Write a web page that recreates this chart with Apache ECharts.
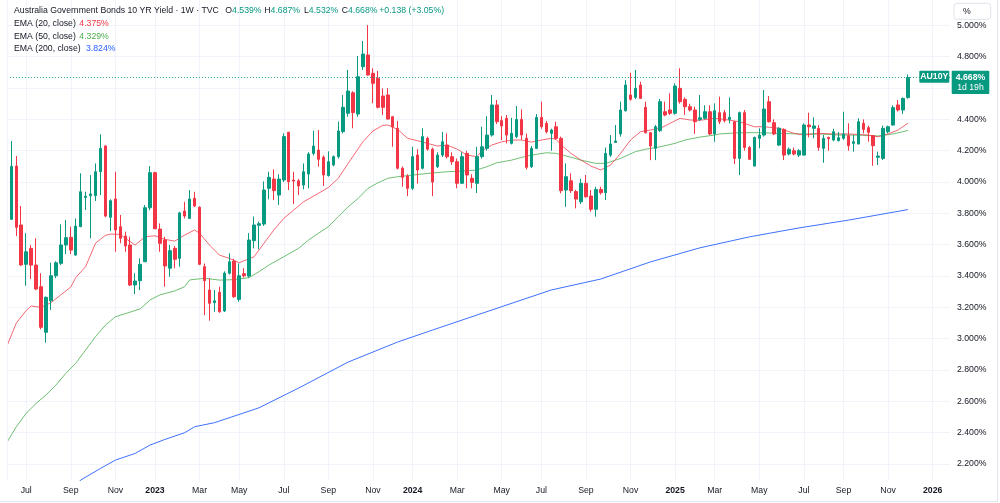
<!DOCTYPE html>
<html>
<head>
<meta charset="utf-8">
<script src="https://cdn.jsdelivr.net/npm/echarts@6/dist/echarts.min.js"></script>
<style>
html, body { margin: 0; padding: 0; background: #fff; }
#main { width: 1000px; height: 503px; }
</style>
</head>
<body>
<div id="main"></div>
<script>
// weekly bars, bar 0 = week of 2022-06-06
var startDate = Date.UTC(2022, 5, 6);
var totalWeeks = 191;

var open = [
  3.50, 3.762, 4.102, 3.726, 3.475, 3.577, 3.470, 3.332, 3.041, 3.242,
  3.402, 3.481, 3.598, 3.647, 3.534, 3.715, 3.902, 3.913, 3.913, 4.066,
  4.230, 3.775, 3.892, 3.715, 3.655, 3.598, 3.343, 3.370, 3.491, 3.836,
  4.060, 3.700, 3.630, 3.450, 3.577, 3.513, 3.815, 3.768, 3.896, 3.839,
  3.460, 3.311, 3.230, 3.296, 3.177, 3.418, 3.495, 3.251, 3.415, 3.400,
  3.626, 3.724, 3.732, 3.960, 4.019, 3.917, 4.013, 4.318, 4.013, 4.008,
  3.981, 4.051, 4.183, 4.204, 4.158, 4.041, 4.109, 4.162, 4.322, 4.439,
  4.570, 4.434, 4.736, 4.811, 4.694, 4.662, 4.549, 4.556, 4.417, 4.343,
  4.088, 4.038, 3.960, 4.172, 4.088, 4.279, 4.210, 4.098, 4.172, 4.236,
  4.162, 4.130, 3.992, 4.183, 4.024, 3.992, 4.162, 4.215, 4.300, 4.492,
  4.392, 4.407, 4.247, 4.290, 4.400, 4.280, 4.098, 4.215, 4.413, 4.375,
  4.311, 4.353, 4.279, 3.949, 4.008, 3.939, 3.874, 3.992, 3.911, 3.826,
  3.953, 3.932, 4.172, 4.253, 4.307, 4.455, 4.556, 4.541, 4.619, 4.477,
  4.315, 4.215, 4.328, 4.449, 4.460, 4.439, 4.598, 4.528, 4.481, 4.460,
  4.400, 4.407, 4.449, 4.307, 4.443, 4.443, 4.400, 4.385, 4.151, 4.443,
  4.221, 4.102, 4.279, 4.300, 4.513, 4.379, 4.236, 4.336, 4.179, 4.200,
  4.172, 4.172, 4.364, 4.343, 4.343, 4.215, 4.285, 4.268, 4.264, 4.279,
  4.296, 4.247, 4.243, 4.375, 4.347, 4.296, 4.158, 4.151, 4.321, 4.364,
  4.492, 4.460, 4.539
];
var high = [
  3.78, 4.262, 4.166, 3.847, 3.673, 3.598, 3.641, 3.418, 3.270, 3.485,
  3.494, 3.730, 3.758, 3.715, 3.768, 4.056, 3.938, 4.045, 4.119, 4.305,
  4.236, 3.890, 4.066, 3.790, 3.683, 3.651, 3.418, 3.513, 3.853, 4.102,
  4.066, 3.736, 3.651, 3.598, 3.592, 3.810, 3.874, 3.949, 3.938, 3.845,
  3.480, 3.386, 3.311, 3.332, 3.430, 3.545, 3.510, 3.480, 3.450, 3.674,
  3.780, 3.747, 4.004, 4.066, 4.081, 4.050, 4.311, 4.320, 4.066, 4.020,
  4.119, 4.190, 4.328, 4.332, 4.170, 4.196, 4.170, 4.386, 4.556, 4.715,
  4.580, 4.805, 4.900, 5.002, 4.726, 4.710, 4.598, 4.600, 4.420, 4.390,
  4.100, 4.050, 4.225, 4.210, 4.343, 4.290, 4.220, 4.190, 4.320, 4.311,
  4.190, 4.150, 4.190, 4.200, 4.050, 4.225, 4.353, 4.420, 4.556, 4.524,
  4.420, 4.428, 4.410, 4.485, 4.464, 4.310, 4.230, 4.434, 4.513, 4.390,
  4.340, 4.385, 4.290, 4.119, 4.056, 3.950, 4.020, 4.045, 3.949, 3.970,
  3.970, 4.220, 4.300, 4.364, 4.513, 4.650, 4.698, 4.715, 4.640, 4.513,
  4.320, 4.364, 4.530, 4.513, 4.566, 4.630, 4.726, 4.540, 4.500, 4.481,
  4.556, 4.490, 4.490, 4.502, 4.545, 4.460, 4.540, 4.390, 4.450, 4.460,
  4.230, 4.290, 4.343, 4.587, 4.549, 4.400, 4.350, 4.343, 4.220, 4.220,
  4.210, 4.375, 4.443, 4.413, 4.364, 4.300, 4.290, 4.340, 4.320, 4.449,
  4.375, 4.300, 4.407, 4.400, 4.360, 4.300, 4.194, 4.360, 4.360, 4.490,
  4.524, 4.540, 4.687
];
var low = [
  3.45, 3.760, 3.655, 3.465, 3.338, 3.381, 3.310, 3.060, 2.975, 3.183,
  3.387, 3.470, 3.540, 3.540, 3.530, 3.715, 3.821, 3.641, 3.879, 3.917,
  3.775, 3.687, 3.555, 3.609, 3.555, 3.336, 3.285, 3.311, 3.490, 3.820,
  3.700, 3.555, 3.332, 3.396, 3.450, 3.460, 3.768, 3.768, 3.840, 3.470,
  3.150, 3.115, 3.172, 3.166, 3.170, 3.410, 3.260, 3.236, 3.390, 3.390,
  3.577, 3.571, 3.720, 3.890, 3.885, 3.853, 4.000, 3.949, 3.860, 3.917,
  3.953, 3.960, 4.170, 4.098, 3.975, 4.035, 4.100, 4.150, 4.310, 4.417,
  4.343, 4.417, 4.715, 4.680, 4.503, 4.470, 4.428, 4.400, 4.225, 4.080,
  3.970, 3.910, 3.950, 3.990, 4.080, 4.200, 3.910, 4.090, 4.160, 4.150,
  4.110, 3.960, 3.990, 3.960, 3.960, 3.930, 4.150, 4.200, 4.290, 4.370,
  4.268, 4.247, 4.240, 4.280, 4.270, 4.080, 4.090, 4.210, 4.340, 4.310,
  4.200, 4.270, 3.928, 3.842, 3.930, 3.832, 3.860, 3.900, 3.811, 3.779,
  3.920, 3.885, 4.160, 4.250, 4.290, 4.450, 4.520, 4.530, 4.530, 4.310,
  4.140, 4.140, 4.320, 4.420, 4.428, 4.430, 4.500, 4.428, 4.450, 4.307,
  4.390, 4.400, 4.300, 4.257, 4.370, 4.380, 4.375, 4.115, 4.045, 4.200,
  4.140, 4.100, 4.215, 4.290, 4.380, 4.300, 4.230, 4.140, 4.170, 4.170,
  4.160, 4.170, 4.285, 4.279, 4.200, 4.123, 4.200, 4.260, 4.260, 4.270,
  4.200, 4.194, 4.240, 4.310, 4.257, 4.104, 4.109, 4.140, 4.310, 4.360,
  4.450, 4.434, 4.532
];
var close = [
  3.77, 4.100, 3.711, 3.471, 3.555, 3.470, 3.317, 3.073, 3.264, 3.402,
  3.485, 3.598, 3.645, 3.566, 3.719, 3.938, 3.910, 3.924, 4.066, 4.215,
  3.783, 3.881, 3.694, 3.641, 3.592, 3.343, 3.368, 3.475, 3.836, 4.060,
  3.702, 3.609, 3.464, 3.562, 3.507, 3.803, 3.783, 3.892, 3.847, 3.475,
  3.370, 3.226, 3.242, 3.172, 3.418, 3.491, 3.268, 3.402, 3.402, 3.630,
  3.726, 3.734, 3.949, 4.030, 3.945, 4.019, 4.290, 4.002, 4.006, 3.975,
  4.066, 4.179, 4.230, 4.145, 4.045, 4.130, 4.162, 4.326, 4.477, 4.581,
  4.443, 4.672, 4.817, 4.683, 4.630, 4.477, 4.477, 4.402, 4.353, 4.088,
  4.030, 3.960, 4.162, 4.077, 4.290, 4.210, 4.000, 4.172, 4.257, 4.162,
  4.130, 3.992, 4.162, 4.045, 3.998, 4.162, 4.225, 4.300, 4.492, 4.385,
  4.358, 4.300, 4.311, 4.400, 4.300, 4.094, 4.215, 4.413, 4.353, 4.321,
  4.332, 4.279, 3.945, 4.034, 3.945, 3.891, 3.992, 3.906, 3.826, 3.953,
  3.932, 4.183, 4.243, 4.262, 4.460, 4.619, 4.528, 4.598, 4.534, 4.315,
  4.230, 4.353, 4.513, 4.428, 4.439, 4.613, 4.513, 4.481, 4.460, 4.385,
  4.410, 4.449, 4.307, 4.455, 4.385, 4.392, 4.413, 4.151, 4.443, 4.221,
  4.145, 4.285, 4.300, 4.466, 4.385, 4.307, 4.343, 4.172, 4.209, 4.179,
  4.200, 4.364, 4.353, 4.358, 4.221, 4.279, 4.277, 4.321, 4.283, 4.307,
  4.232, 4.257, 4.385, 4.336, 4.317, 4.232, 4.166, 4.343, 4.353, 4.475,
  4.460, 4.534, 4.668
];

// indicator lines: [bar index, value]
var ema20 = [
  [0, 2.945], [2, 3.10], [4, 3.18], [5, 3.209], [7, 3.20], [9, 3.23], [11, 3.28],
  [13, 3.33], [14, 3.39], [16, 3.46], [18, 3.61], [20, 3.66], [21, 3.668], [23, 3.666],
  [24, 3.641], [26, 3.598], [28, 3.651], [30, 3.657], [32, 3.634], [34, 3.623],
  [36, 3.662], [38, 3.694], [39, 3.673], [41, 3.598], [43, 3.534], [45, 3.513],
  [47, 3.485], [50, 3.523], [52, 3.609], [54, 3.694], [56, 3.768], [58, 3.821],
  [60, 3.874], [63, 3.928], [65, 3.965], [67, 4.024], [69, 4.119], [72, 4.258],
  [74, 4.326], [76, 4.362], [77, 4.364], [79, 4.336], [81, 4.279], [83, 4.264],
  [85, 4.247], [87, 4.230], [89, 4.235], [91, 4.210], [93, 4.172], [95, 4.162],
  [96, 4.200], [98, 4.236], [100, 4.257], [102, 4.268], [104, 4.268], [106, 4.255],
  [108, 4.268], [110, 4.279], [111, 4.272], [112, 4.236], [114, 4.183], [116, 4.140],
  [118, 4.102], [120, 4.077], [122, 4.109], [124, 4.183], [126, 4.268], [128, 4.321],
  [130, 4.332], [132, 4.343], [134, 4.375], [136, 4.407], [138, 4.396], [140, 4.394],
  [143, 4.407], [145, 4.400], [148, 4.385], [151, 4.353], [153, 4.353], [156, 4.343],
  [159, 4.311], [161, 4.300], [164, 4.311], [167, 4.307], [170, 4.307], [174, 4.300],
  [176, 4.289], [178, 4.307], [180, 4.332], [182, 4.375]
];
var ema50 = [
  [0, 2.332], [2, 2.438], [4, 2.524], [6, 2.587], [8, 2.641], [10, 2.704], [12, 2.779],
  [14, 2.843], [16, 2.928], [18, 3.013], [20, 3.087], [22, 3.140], [24, 3.160],
  [27, 3.190], [29, 3.247], [31, 3.280], [34, 3.305], [36, 3.332], [37, 3.375],
  [40, 3.386], [43, 3.374], [46, 3.377], [49, 3.390], [51, 3.428], [53, 3.470],
  [56, 3.523], [59, 3.577], [61, 3.630], [63, 3.673], [65, 3.715], [67, 3.779],
  [69, 3.842], [71, 3.895], [73, 3.960], [75, 3.995], [77, 4.024], [79, 4.034],
  [83, 4.048], [86, 4.058], [89, 4.066], [92, 4.070], [95, 4.077], [97, 4.098],
  [99, 4.123], [102, 4.140], [104, 4.157], [106, 4.172], [109, 4.187], [111, 4.183],
  [114, 4.158], [116, 4.140], [119, 4.119], [121, 4.119], [124, 4.151], [127, 4.194],
  [129, 4.209], [132, 4.225], [135, 4.247], [137, 4.268], [140, 4.287], [143, 4.300],
  [144, 4.307], [148, 4.315], [152, 4.315], [156, 4.311], [160, 4.307], [164, 4.307],
  [168, 4.300], [172, 4.300], [176, 4.294], [179, 4.307], [182, 4.329]
];
var ema200 = [
  [14, 2.06], [15, 2.098], [19, 2.172], [22, 2.225], [26, 2.268], [29, 2.321], [32, 2.357],
  [36, 2.400], [38, 2.438], [42, 2.464], [46, 2.506], [51, 2.559], [59, 2.685],
  [69, 2.851], [79, 2.979], [86, 3.055], [96, 3.162], [110, 3.311], [120, 3.381],
  [130, 3.490], [140, 3.580], [150, 3.650], [160, 3.707], [170, 3.757], [182, 3.824]
];

var priceTicks = [2.2, 2.4, 2.6, 2.8, 3.0, 3.2, 3.4, 3.6, 3.8, 4.0, 4.2, 4.4, 4.6, 4.8, 5.0];
var lastPrice = 4.668;
var monthNames = ['Jan', 'Feb', 'Mar', 'Apr', 'May', 'Jun', 'Jul', 'Aug', 'Sep', 'Oct', 'Nov', 'Dec'];

var weeks = [];
for (var i = 0; i < totalWeeks; i++) {
  weeks.push(new Date(startDate + i * 7 * 86400000));
}
var categories = weeks.map(function (d) { return d.toISOString().slice(0, 10); });

function isMarked(i) {
  if (i === 0) return false;
  var m = weeks[i].getUTCMonth();
  return m !== weeks[i - 1].getUTCMonth() && m % 2 === 0;
}

var font = 'Liberation Sans, Arial, sans-serif';
var fs = 8.7;
var green = '#089981';
var red = '#f23645';
var gridColor = '#f0f3fa';

var myChart = echarts.init(document.getElementById('main'), null, { renderer: 'canvas' });

var option = {
  animation: false,
  backgroundColor: '#ffffff',
  grid: { left: 3.9, right: 50, top: 0, bottom: 22.5 },
  xAxis: {
    type: 'category',
    data: categories,
    boundaryGap: true,
    axisLine: { show: false },
    axisTick: { show: false, alignWithLabel: true, interval: function (i) { return isMarked(i); } },
    splitLine: {
      show: true,
      alignWithLabel: true,
      interval: function (i) { return isMarked(i); },
      lineStyle: { color: gridColor, width: 1 }
    },
    axisLabel: {
      interval: function (i) { return isMarked(i); },
      margin: 6,
      color: '#131722',
      fontSize: fs,
      fontFamily: font,
      formatter: function (value, index) {
        var d = weeks[index];
        if (d.getUTCMonth() === 0) return '{y|' + d.getUTCFullYear() + '}';
        return monthNames[d.getUTCMonth()];
      },
      rich: { y: { fontWeight: 'bold', fontSize: fs, fontFamily: font, color: '#131722' } }
    }
  },
  yAxis: {
    type: 'value',
    position: 'right',
    min: 2.095,
    max: 5.162,
    axisLine: { show: false },
    axisTick: { show: false, customValues: priceTicks },
    splitLine: { show: true, lineStyle: { color: gridColor, width: 1 } },
    axisLabel: {
      customValues: priceTicks,
      margin: 7,
      color: '#131722',
      fontSize: fs,
      fontFamily: font,
      formatter: function (v) { return v.toFixed(3) + '%'; }
    }
  },
  series: [
    {
      type: 'line',
      data: ema200,
      symbol: 'none',
      lineStyle: { color: '#2962ff', width: 1, opacity: 0.9 },
      z: 3
    },
    {
      type: 'line',
      data: ema50,
      symbol: 'none',
      lineStyle: { color: '#4caf50', width: 1, opacity: 0.8 },
      z: 3
    },
    {
      type: 'line',
      data: ema20,
      symbol: 'none',
      lineStyle: { color: '#f23645', width: 1, opacity: 0.75 },
      z: 3
    },
    {
      type: 'candlestick',
      data: open.map(function (o, i) { return [o, close[i], low[i], high[i]]; }),
      barWidth: 3,
      itemStyle: {
        color: green,
        color0: red,
        borderColor: green,
        borderColor0: red,
        borderWidth: 1
      },
      markLine: {
        silent: true,
        symbol: ['none', 'none'],
        label: { show: false },
        lineStyle: { color: green, type: [1, 2], width: 1, opacity: 0.9 },
        data: [{ yAxis: lastPrice }]
      },
      z: 4
    }
  ],
  graphic: [
    // clip the first half-visible bar like the original pane edge
    { type: 'rect', z: 100, shape: { x: 0, y: 0, width: 7.3, height: 481 }, style: { fill: '#ffffff' } },
    { type: 'line', z: 101, shape: { x1: 7.5, y1: 0, x2: 7.5, y2: 481 }, style: { stroke: gridColor, lineWidth: 1 } },
    // outer frame
    { type: 'line', z: 101, shape: { x1: 997.5, y1: 0, x2: 997.5, y2: 502 }, style: { stroke: '#e0e3eb', lineWidth: 1 } },
    { type: 'line', z: 101, shape: { x1: 0, y1: 501.5, x2: 997.5, y2: 501.5 }, style: { stroke: '#e0e3eb', lineWidth: 1 } },
    // header
    { type: 'text', z: 110, x: 14, y: 11, style: { text: 'Australia Government Bonds 10 YR Yield · 1W · TVC', fill: '#131722', font: fs + 'px ' + font, verticalAlign: 'middle' } },
    { type: 'text', z: 110, x: 225.3, y: 11, style: { text: '{k|O}{v|4.539%}', verticalAlign: 'middle', rich: { k: { fill: '#131722', font: fs + 'px ' + font }, v: { fill: green, font: fs + 'px ' + font } } } },
    { type: 'text', z: 110, x: 264.3, y: 11, style: { text: '{k|H}{v|4.687%}', verticalAlign: 'middle', rich: { k: { fill: '#131722', font: fs + 'px ' + font }, v: { fill: green, font: fs + 'px ' + font } } } },
    { type: 'text', z: 110, x: 304, y: 11, style: { text: '{k|L}{v|4.532%}', verticalAlign: 'middle', rich: { k: { fill: '#131722', font: fs + 'px ' + font }, v: { fill: green, font: fs + 'px ' + font } } } },
    { type: 'text', z: 110, x: 341.7, y: 11, style: { text: '{k|C}{v|4.668%}', verticalAlign: 'middle', rich: { k: { fill: '#131722', font: fs + 'px ' + font }, v: { fill: green, font: fs + 'px ' + font } } } },
    { type: 'text', z: 110, x: 379.3, y: 11, style: { text: '+0.138 (+3.05%)', fill: green, font: fs + 'px ' + font, verticalAlign: 'middle' } },
    { type: 'text', z: 110, x: 14, y: 24, style: { text: 'EMA (20, close)', fill: '#131722', font: fs + 'px ' + font, verticalAlign: 'middle' } },
    { type: 'text', z: 110, x: 79.3, y: 24, style: { text: '4.375%', fill: red, font: fs + 'px ' + font, verticalAlign: 'middle' } },
    { type: 'text', z: 110, x: 14, y: 36.5, style: { text: 'EMA (50, close)', fill: '#131722', font: fs + 'px ' + font, verticalAlign: 'middle' } },
    { type: 'text', z: 110, x: 79.3, y: 36.5, style: { text: '4.329%', fill: '#4caf50', font: fs + 'px ' + font, verticalAlign: 'middle' } },
    { type: 'text', z: 110, x: 14, y: 49, style: { text: 'EMA (200, close)', fill: '#131722', font: fs + 'px ' + font, verticalAlign: 'middle' } },
    { type: 'text', z: 110, x: 86, y: 49, style: { text: '3.824%', fill: '#2962ff', font: fs + 'px ' + font, verticalAlign: 'middle' } },
    // unit button
    { type: 'rect', z: 110, shape: { x: 954, y: 3.3, width: 36.7, height: 16, r: 3 }, style: { fill: '#ffffff', stroke: '#e0e3eb', lineWidth: 1 } },
    { type: 'text', z: 111, x: 963, y: 11.3, style: { text: '%', fill: '#131722', font: fs + 'px ' + font, verticalAlign: 'middle' } },
    // last price labels
    { type: 'rect', z: 110, shape: { x: 919.3, y: 70.7, width: 30, height: 12, r: 1 }, style: { fill: green } },
    { type: 'text', z: 111, x: 934.3, y: 76.9, style: { text: 'AU10Y', fill: '#ffffff', font: 'bold ' + fs + 'px ' + font, align: 'center', verticalAlign: 'middle' } },
    { type: 'rect', z: 110, shape: { x: 951.7, y: 70.7, width: 37.6, height: 23.3, r: 1 }, style: { fill: green } },
    { type: 'text', z: 111, x: 970.5, y: 77.3, style: { text: '4.668%', fill: '#ffffff', font: 'bold ' + fs + 'px ' + font, align: 'center', verticalAlign: 'middle' } },
    { type: 'text', z: 111, x: 970.5, y: 87.5, style: { text: '1d 19h', fill: '#ffffff', font: fs + 'px ' + font, align: 'center', verticalAlign: 'middle' } }
  ]
};

myChart.setOption(option);
</script>
</body>
</html>
